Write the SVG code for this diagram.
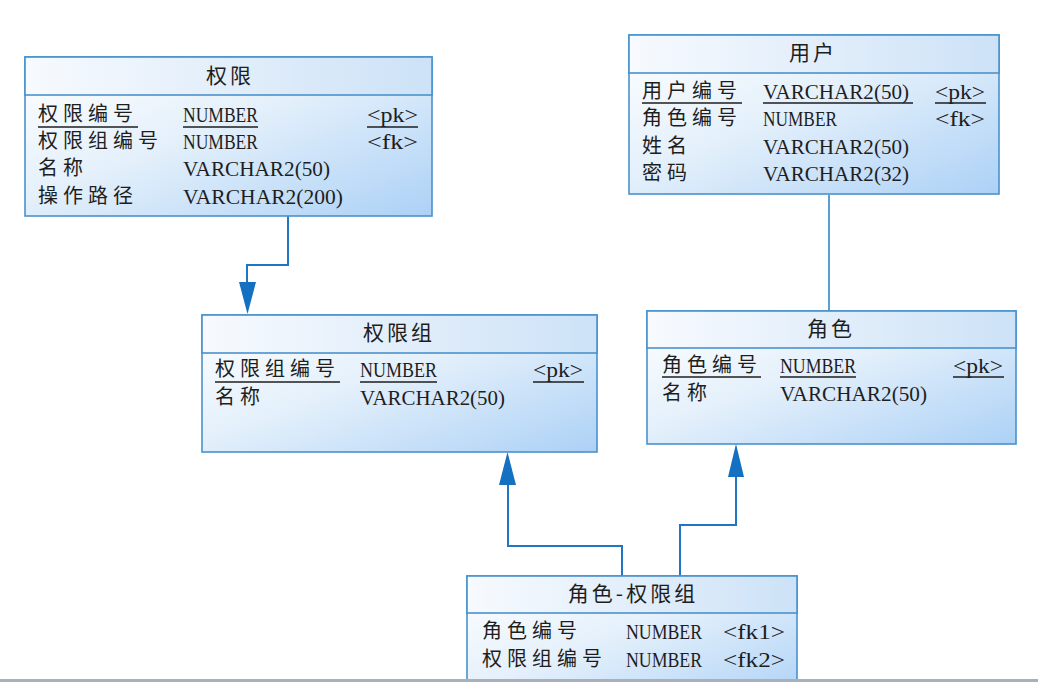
<svg xmlns="http://www.w3.org/2000/svg" width="1038" height="682" viewBox="0 0 1038 682">
<defs>
<linearGradient id="body" x1="0" y1="0" x2="1" y2="1">
<stop offset="0" stop-color="#ffffff"/>
<stop offset="0.45" stop-color="#e4f0fb"/>
<stop offset="1" stop-color="#acd1f6"/>
</linearGradient>
<linearGradient id="head" x1="0" y1="0" x2="1" y2="0">
<stop offset="0" stop-color="#f7fafe"/>
<stop offset="1" stop-color="#cde2f7"/>
</linearGradient>
<style>
.box{fill:url(#body);stroke:#4a92cc;stroke-width:1.6}
.hd{fill:url(#head);stroke:#4a92cc;stroke-width:1.6}
.cn{font-family:"Noto Sans CJK SC","Noto Sans CJK TC",sans-serif;font-size:20px;letter-spacing:5px;fill:#1e1e1e}
.tt{font-family:"Noto Sans CJK SC","Noto Sans CJK TC",sans-serif;font-size:21px;letter-spacing:3px;fill:#1e1e1e;text-anchor:middle}
.lat{font-family:"Liberation Serif",serif;font-size:21px;fill:#1e1e1e}
.ul{stroke:#1e1e1e;stroke-width:1.3}
.ln{fill:none;stroke:#1f76c2;stroke-width:2}
.ln2{fill:none;stroke:#5a9fd3;stroke-width:2}
.ar{fill:#1470c0}
</style>
</defs>
<rect width="1038" height="682" fill="#ffffff"/>

<g id="connectors">
<path class="ln" d="M288,216 V265 H247 V290"/>
<polygon class="ar" points="239,282 256,282 247.5,314"/>
<path class="ln2" d="M829,195 V311"/>
<path class="ln" d="M622,576 V546 H508 V470"/>
<polygon class="ar" points="499,485 516,485 507.5,452"/>
<path class="ln" d="M680,576 V525 H736 V460"/>
<polygon class="ar" points="728,477 744,477 736,444"/>
</g>

<g id="quanxian">
<rect class="box" x="25" y="57" width="407" height="159"/>
<rect class="hd" x="25" y="57" width="407" height="38"/>
<text class="tt" x="230" y="83">权限</text>
<text class="cn" x="38" y="121">权限编号</text>
<text class="lat" x="183" y="122" textLength="75" lengthAdjust="spacingAndGlyphs">NUMBER</text>
<text class="lat" x="367" y="122" textLength="51" lengthAdjust="spacingAndGlyphs">&lt;pk&gt;</text>
<line class="ul" x1="38" y1="127" x2="138" y2="127"/>
<line class="ul" x1="183" y1="127" x2="258" y2="127"/>
<line class="ul" x1="367" y1="127" x2="418" y2="127"/>
<text class="cn" x="38" y="148">权限组编号</text>
<text class="lat" x="183" y="149" textLength="75" lengthAdjust="spacingAndGlyphs">NUMBER</text>
<text class="lat" x="367" y="149" textLength="51" lengthAdjust="spacingAndGlyphs">&lt;fk&gt;</text>
<text class="cn" x="38" y="175">名称</text>
<text class="lat" x="183" y="176" textLength="147" lengthAdjust="spacingAndGlyphs">VARCHAR2(50)</text>
<text class="cn" x="38" y="203">操作路径</text>
<text class="lat" x="183" y="204" textLength="160" lengthAdjust="spacingAndGlyphs">VARCHAR2(200)</text>
</g>

<g id="yonghu">
<rect class="box" x="629" y="35" width="370" height="159"/>
<rect class="hd" x="629" y="35" width="370" height="38"/>
<text class="tt" x="813" y="60">用户</text>
<text class="cn" x="642" y="98">用户编号</text>
<text class="lat" x="763" y="99" textLength="146" lengthAdjust="spacingAndGlyphs">VARCHAR2(50)</text>
<text class="lat" x="935" y="99" textLength="50" lengthAdjust="spacingAndGlyphs">&lt;pk&gt;</text>
<line class="ul" x1="642" y1="103" x2="742" y2="103"/>
<line class="ul" x1="763" y1="103" x2="913" y2="103"/>
<line class="ul" x1="935" y1="103" x2="986" y2="103"/>
<text class="cn" x="642" y="125">角色编号</text>
<text class="lat" x="763" y="126" textLength="74" lengthAdjust="spacingAndGlyphs">NUMBER</text>
<text class="lat" x="935" y="126" textLength="50" lengthAdjust="spacingAndGlyphs">&lt;fk&gt;</text>
<text class="cn" x="642" y="153">姓名</text>
<text class="lat" x="763" y="154" textLength="146" lengthAdjust="spacingAndGlyphs">VARCHAR2(50)</text>
<text class="cn" x="642" y="180">密码</text>
<text class="lat" x="763" y="181" textLength="146" lengthAdjust="spacingAndGlyphs">VARCHAR2(32)</text>
</g>

<g id="quanxianzu">
<rect class="box" x="202" y="315" width="395" height="137"/>
<rect class="hd" x="202" y="315" width="395" height="38"/>
<text class="tt" x="399" y="340">权限组</text>
<text class="cn" x="215" y="376">权限组编号</text>
<text class="lat" x="360" y="377" textLength="77" lengthAdjust="spacingAndGlyphs">NUMBER</text>
<text class="lat" x="533" y="377" textLength="50" lengthAdjust="spacingAndGlyphs">&lt;pk&gt;</text>
<line class="ul" x1="215" y1="382" x2="340" y2="382"/>
<line class="ul" x1="360" y1="382" x2="437" y2="382"/>
<line class="ul" x1="533" y1="382" x2="584" y2="382"/>
<text class="cn" x="215" y="404">名称</text>
<text class="lat" x="360" y="405" textLength="145" lengthAdjust="spacingAndGlyphs">VARCHAR2(50)</text>
</g>

<g id="jiaose">
<rect class="box" x="647" y="311" width="369" height="133"/>
<rect class="hd" x="647" y="311" width="369" height="37"/>
<text class="tt" x="831" y="336">角色</text>
<text class="cn" x="662" y="372">角色编号</text>
<text class="lat" x="780" y="373" textLength="76" lengthAdjust="spacingAndGlyphs">NUMBER</text>
<text class="lat" x="953" y="373" textLength="50" lengthAdjust="spacingAndGlyphs">&lt;pk&gt;</text>
<line class="ul" x1="662" y1="377" x2="761" y2="377"/>
<line class="ul" x1="780" y1="377" x2="856" y2="377"/>
<line class="ul" x1="953" y1="377" x2="1004" y2="377"/>
<text class="cn" x="662" y="400">名称</text>
<text class="lat" x="780" y="401" textLength="147" lengthAdjust="spacingAndGlyphs">VARCHAR2(50)</text>
</g>

<g id="jiaose-quanxianzu">
<rect class="box" x="467" y="576" width="330" height="130"/>
<rect class="hd" x="467" y="576" width="330" height="37"/>
<text class="tt" x="633" y="601">角色-权限组</text>
<text class="cn" x="482" y="638">角色编号</text>
<text class="lat" x="626" y="639" textLength="76" lengthAdjust="spacingAndGlyphs">NUMBER</text>
<text class="lat" x="723" y="639" textLength="62" lengthAdjust="spacingAndGlyphs">&lt;fk1&gt;</text>
<text class="cn" x="482" y="666">权限组编号</text>
<text class="lat" x="626" y="667" textLength="76" lengthAdjust="spacingAndGlyphs">NUMBER</text>
<text class="lat" x="723" y="667" textLength="62" lengthAdjust="spacingAndGlyphs">&lt;fk2&gt;</text>
</g>

<rect x="0" y="679" width="1038" height="3" fill="#a9afbd"/>
</svg>
